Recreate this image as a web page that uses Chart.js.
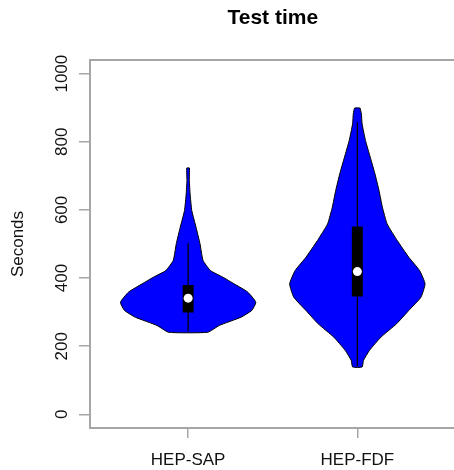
<!DOCTYPE html>
<html>
<head>
<meta charset="utf-8">
<script src="https://cdn.jsdelivr.net/npm/chart.js@4"></script>
<style>
  html, body { margin: 0; padding: 0; overflow: hidden; background: #fff; }
  #wrap { width: 460px; height: 470px; }
</style>
</head>
<body>
<div id="wrap"><canvas id="c" width="460" height="470"></canvas></div>
<script>
// groups and their positions on the x axis
const categories = ['HEP-SAP', 'HEP-FDF'];
const categoryPositions = [1, 2];
const yTickValues = [0, 200, 400, 600, 800, 1000];

// violin outlines, top to bottom: level in seconds and relative density (1 = widest)
const sapLevels  = [723, 686, 647, 598, 549, 501, 452, 422, 403, 383, 359, 329, 305, 285, 261, 241];
const sapDensity = [0.02, 0.018, 0.029, 0.054, 0.117, 0.175, 0.22, 0.33, 0.51, 0.68, 0.88, 1.0, 0.94, 0.78, 0.46, 0.29];

const fdfLevels  = [899, 882, 853, 804, 755, 706, 657, 608, 559, 510, 461, 422, 383, 344, 305, 266, 227, 188, 158, 139];
const fdfDensity = [0.04, 0.06, 0.07, 0.12, 0.19, 0.26, 0.32, 0.37, 0.44, 0.59, 0.76, 0.92, 1.0, 0.94, 0.76, 0.58, 0.35, 0.18, 0.09, 0.07];

// box summaries per group
const whiskerLow  = [243, 141];
const quartile1   = [299, 346];
const medians     = [341, 419];
const quartile3   = [380, 551];
const whiskerHigh = [502, 857];

const GRAY = '#a6a6a6';
const TEXT = '#111111';
const FONT = "'Liberation Sans', Arial, Helvetica, sans-serif";
const HALF_WIDTH = 0.4;

function violinOutline(levels, density, pos) {
  const pts = [];
  for (let i = 0; i < levels.length; i++) pts.push({ x: pos + HALF_WIDTH * density[i], y: levels[i] });
  for (let i = levels.length - 1; i >= 0; i--) pts.push({ x: pos - HALF_WIDTH * density[i], y: levels[i] });
  pts.push({ x: pts[0].x, y: pts[0].y });
  return pts;
}

const violinSets = [
  [sapLevels, sapDensity],
  [fdfLevels, fdfDensity]
].map(([lv, dn], i) => ({
  data: violinOutline(lv, dn, categoryPositions[i]),
  showLine: true,
  fill: 'shape',
  backgroundColor: '#0000ff',
  borderColor: '#000000',
  borderWidth: 1,
  pointRadius: 0,
  tension: 0.15,
  order: 4
}));

const whiskerSets = categoryPositions.map((pos, i) => ({
  data: [{ x: pos, y: whiskerLow[i] }, { x: pos, y: whiskerHigh[i] }],
  showLine: true,
  borderColor: '#000000',
  borderWidth: 1.3,
  pointRadius: 0,
  order: 3
}));

const boxSets = categoryPositions.map((pos, i) => ({
  data: [{ x: pos, y: quartile1[i] }, { x: pos, y: quartile3[i] }],
  showLine: true,
  borderColor: '#000000',
  borderWidth: 11,
  borderCapStyle: 'butt',
  pointRadius: 0,
  order: 2
}));

const medianSet = {
  data: categoryPositions.map((pos, i) => ({ x: pos, y: medians[i] })),
  showLine: false,
  pointRadius: 4.5,
  pointBackgroundColor: '#ffffff',
  pointBorderWidth: 0,
  order: 1
};

// plot frame around the chart area
const frame = {
  id: 'frame',
  beforeDatasetsDraw(chart) {
    const { ctx, chartArea: a } = chart;
    ctx.save();
    ctx.strokeStyle = GRAY;
    ctx.lineWidth = 2;
    ctx.strokeRect(a.left, a.top, a.right - a.left, a.bottom - a.top);
    ctx.restore();
  }
};

new Chart(document.getElementById('c'), {
  type: 'scatter',
  data: { datasets: [...violinSets, ...whiskerSets, ...boxSets, medianSet] },
  plugins: [frame],
  options: {
    responsive: false,
    animation: false,
    events: [],
    layout: { padding: 0 },
    plugins: {
      legend: { display: false },
      tooltip: { enabled: false },
      title: {
        display: true,
        fullSize: false,
        text: 'Test time',
        color: '#000000',
        font: { family: FONT, size: 21, weight: 'bold' },
        padding: { top: 6, bottom: 28.8 }
      }
    },
    scales: {
      x: {
        type: 'linear',
        min: 0.42,
        max: 2.58,
        afterBuildTicks(scale) { scale.ticks = categoryPositions.map(v => ({ value: v })); },
        afterFit(scale) { scale.height = 42; },
        border: { display: false },
        grid: { drawOnChartArea: false, drawTicks: true, tickLength: 10, color: GRAY, lineWidth: 1.5 },
        ticks: {
          color: TEXT,
          font: { family: FONT, size: 17 },
          padding: 12,
          maxRotation: 0,
          autoSkip: false,
          callback: (v) => categories[categoryPositions.indexOf(v)]
        }
      },
      y: {
        type: 'linear',
        min: -40,
        max: 1040,
        afterBuildTicks(scale) { scale.ticks = yTickValues.map(v => ({ value: v })); },
        afterFit(scale) { scale.width = 90; },
        border: { display: false },
        grid: { drawOnChartArea: false, drawTicks: true, tickLength: 11, color: GRAY, lineWidth: 1.5 },
        ticks: {
          color: TEXT,
          font: { family: FONT, size: 17 },
          padding: -2,
          minRotation: 90,
          maxRotation: 90,
          crossAlign: 'center',
          autoSkip: false,
          callback: (v) => String(v)
        },
        title: {
          display: true,
          text: 'Seconds',
          color: TEXT,
          font: { family: FONT, size: 17 },
          padding: { top: 8, bottom: 0 }
        }
      }
    }
  }
});
</script>
</body>
</html>
